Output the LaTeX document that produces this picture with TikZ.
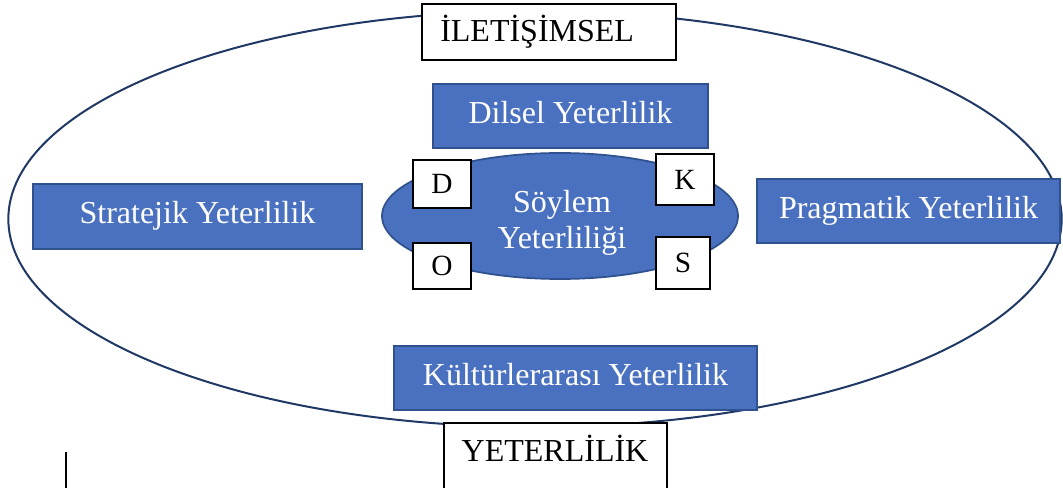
\documentclass[tikz,border=0pt]{standalone}
\usepackage{fontspec}
\setmainfont{Liberation Serif}

\definecolor{kutumavi}{HTML}{4A71C0}
\definecolor{kenar}{HTML}{2F528F}
\definecolor{halka}{HTML}{1F3864}

\tikzset{
  yeterlik/.style={fill=kutumavi, draw=kenar, line width=1.3pt},
  beyaz/.style={fill=white, draw=black, line width=0.9pt},
  yazi/.style={text=white, font=\fontsize{24}{28}\selectfont, text height=16pt, text depth=5pt},
  baslik/.style={font=\fontsize{24}{28}\selectfont, text height=16pt, text depth=5pt},
}

\begin{document}
\begin{tikzpicture}[x=0.75pt, y=-0.75pt]
\useasboundingbox (0,0) rectangle (1063,488);

% outer ring
\draw[halka, line width=1.5pt] (535,219) ellipse [x radius=395pt, y radius=156pt];

% top and bottom labels
\filldraw[beyaz] (422,4) rectangle (676,60);
\node[baslik, anchor=west, inner sep=0pt] (iletisim) at (440,34) {İLETİŞİMSEL};
\filldraw[beyaz] (444,423) rectangle (667,500);
\node[baslik] (yeterlilik) at (555,454) {YETERLİLİK};

\foreach \name/\xa/\ya/\xb/\yb/\metin in {dilsel/433/84/708/148/Dilsel Yeterlilik,
    stratejik/33/184/362/249/Stratejik Yeterlilik,
    pragmatik/757/179/1060/243/Pragmatik Yeterlilik,
    kultur/394/346/757/410/Kültürlerarası Yeterlilik}{
    \filldraw[yeterlik] (\xa,\ya) rectangle node[yazi] (\name) {\metin} (\xb,\yb);
}

% discourse competence in the middle
\filldraw[yeterlik] (560,216) ellipse [x radius=133.5pt, y radius=47.25pt];
\node[text=white, font=\fontsize{24}{27}\selectfont, align=center] (soylem) at (562,223) {Söylem\\Yeterliliği};

\foreach \harf/\xa/\ya/\xb/\yb in {D/413/160/471/208, K/656/154/714/205, O/413/243/471/289, S/656/237/710/289}{
    \filldraw[beyaz] (\xa,\ya) rectangle node[font=\fontsize{22}{26}\selectfont] (harf\harf) {\harf} (\xb,\yb);
}

\draw[line width=1.4pt] (66,452) -- (66,488);

\end{tikzpicture}
\end{document}
